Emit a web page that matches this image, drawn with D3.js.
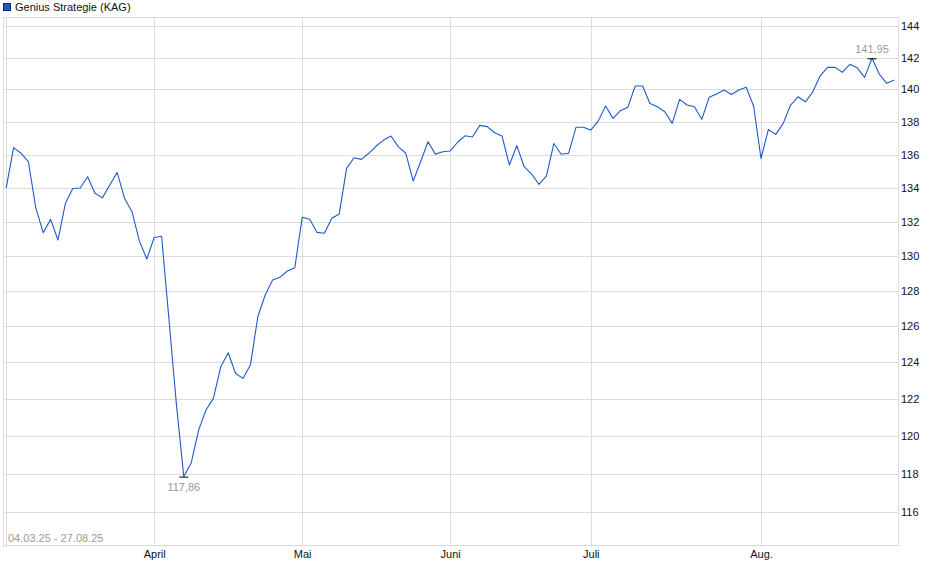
<!DOCTYPE html>
<html>
<head>
  <meta charset="utf-8">
  <script type="text/javascript" src="https://cdn.jsdelivr.net/npm/d3@7"></script>
  <style>
    body { margin: 0; background: #fff; }
    text { font-family: "Liberation Sans", Arial, sans-serif; }
  </style>
</head>
<body>
  <div id="viz"></div>
  <script type="text/javascript">
    var seriesName = "Genius Strategie (KAG)";
    var dateRange = "04.03.25 - 27.08.25";

    // one value per trading day, 04.03.25 .. 27.08.25
    var values = [
      134.0, 136.42, 136.08, 135.57, 132.82, 131.36, 132.14, 130.93, 133.08, 133.97,
      134.0, 134.67, 133.68, 133.41, 134.17, 134.93, 133.37, 132.59, 130.87, 129.83,
      131.08, 131.15, 126.36, 121.72, 117.86, 118.58, 120.32, 121.40, 122.03, 123.76,
      124.53, 123.39, 123.12, 123.85, 126.54, 127.77, 128.62, 128.78, 129.14, 129.33,
      132.26, 132.15, 131.38, 131.33, 132.2, 132.45, 135.17, 135.81, 135.71, 136.08,
      136.52, 136.88, 137.13, 136.47, 136.08, 134.41, 135.57, 136.78, 136.03, 136.17,
      136.22, 136.75, 137.14, 137.07, 137.78, 137.7, 137.33, 137.13, 135.37, 136.54,
      135.27, 134.83, 134.21, 134.71, 136.67, 136.02, 136.08, 137.66, 137.66, 137.49,
      138.04, 138.97, 138.21, 138.68, 138.89, 140.21, 140.21, 139.13, 138.92, 138.62,
      137.9, 139.38, 139.03, 138.92, 138.15, 139.51, 139.71, 139.96, 139.68, 139.96,
      140.13, 138.97, 135.77, 137.53, 137.23, 137.90, 139.03, 139.54, 139.23, 139.85,
      140.85, 141.38, 141.38, 141.07, 141.57, 141.35, 140.75, 141.95, 140.94, 140.38,
      140.58
    ];

    // month ticks: label and trading-day index of first day in month
    var monthLabels = ["", "April", "Mai", "Juni", "Juli", "Aug."];
    var monthIndex = [0, 20, 40, 60, 79, 102];

    var yTicks = [116, 118, 120, 122, 124, 126, 128, 130, 132, 134, 136, 138, 140, 142, 144];

    var W = 940, H = 579;
    var padL = 3, padR = 898, padT = 17, padB = 545;

    var x = d3.scaleLinear().domain([0, values.length - 1]).range([6.2, 894.2]);
    var y = d3.scaleLog().domain([114.33, 144.58]).range([padB, padT]);

    var svg = d3.select("#viz")
      .append("svg")
      .attr("width", W)
      .attr("height", H);

    // horizontal grid + right labels
    var yAxis = d3.axisRight(y)
      .tickValues(yTicks)
      .tickFormat(d3.format("d"))
      .tickSize(-(padR - padL))
      .tickPadding(3);
    var gy = svg.append("g")
      .attr("transform", "translate(" + padR + ",0)")
      .call(yAxis);
    gy.select(".domain").remove();
    gy.selectAll("line").attr("stroke", "#dcdcdc").attr("shape-rendering", "crispEdges");
    gy.selectAll("text")
      .attr("fill", "#111")
      .attr("font-size", 11)
      .attr("x", 3);

    // vertical month grid + labels
    var xAxis = d3.axisBottom(x)
      .tickValues(monthIndex)
      .tickFormat(function(d, i) { return monthLabels[i]; })
      .tickSize(-(padB - padT))
      .tickPadding(5);
    var gx = svg.append("g")
      .attr("transform", "translate(0," + padB + ")")
      .call(xAxis);
    gx.select(".domain").remove();
    gx.selectAll("line")
      .attr("stroke", "#dcdcdc")
      .attr("shape-rendering", "crispEdges")
      .attr("y1", -(padB - padT))
      .attr("y2", 2);
    gx.selectAll("text")
      .attr("fill", "#111")
      .attr("font-size", 11)
      .attr("dy", "0.71em")
      .attr("y", 5);

    // frame
    svg.append("rect")
      .attr("x", padL + 0.5)
      .attr("y", padT + 0.5)
      .attr("width", padR - padL)
      .attr("height", padB - padT)
      .attr("fill", "none")
      .attr("stroke", "#dcdcdc");
    svg.append("line")
      .attr("x1", padL + 0.5).attr("x2", padL + 0.5)
      .attr("y1", padB).attr("y2", padB + 3)
      .attr("stroke", "#dcdcdc");

    // line
    var line = d3.line()
      .x(function(d, i) { return x(i); })
      .y(function(d) { return y(d); });
    svg.append("path")
      .datum(values)
      .attr("d", line)
      .attr("fill", "none")
      .attr("stroke", "#1f5bc7")
      .attr("stroke-width", 1.1)
      .attr("stroke-linejoin", "round");

    // min / max markers
    var fmt = function(v) { return d3.format(".2f")(v).replace(".", ","); };
    var minI = d3.minIndex(values), maxI = d3.maxIndex(values);

    svg.append("line")
      .attr("x1", x(minI) - 4.5).attr("x2", x(minI) + 4.5)
      .attr("y1", y(values[minI]) + 0.5).attr("y2", y(values[minI]) + 0.5)
      .attr("stroke", "#000");
    svg.append("text")
      .attr("x", x(minI))
      .attr("y", y(values[minI]) + 14.5)
      .attr("text-anchor", "middle")
      .attr("font-size", 11)
      .attr("fill", "#999")
      .text(fmt(values[minI]));

    svg.append("line")
      .attr("x1", x(maxI) - 4.5).attr("x2", x(maxI) + 4.5)
      .attr("y1", y(values[maxI]) + 0.5).attr("y2", y(values[maxI]) + 0.5)
      .attr("stroke", "#000");
    svg.append("text")
      .attr("x", x(maxI))
      .attr("y", y(values[maxI]) - 5)
      .attr("text-anchor", "middle")
      .attr("font-size", 11)
      .attr("fill", "#a09a94")
      .text(fmt(values[maxI]));

    // date range
    svg.append("text")
      .attr("x", 8)
      .attr("y", padB - 3)
      .attr("font-size", 11)
      .attr("fill", "#a09a94")
      .text(dateRange);

    // legend
    svg.append("rect")
      .attr("x", 3.5).attr("y", 3.5)
      .attr("width", 7).attr("height", 7)
      .attr("fill", "#1f5bc7")
      .attr("stroke", "#0d2a66");
    svg.append("text")
      .attr("x", 15)
      .attr("y", 11)
      .attr("font-size", 11)
      .attr("fill", "#111")
      .text(seriesName);
  </script>
</body>
</html>
